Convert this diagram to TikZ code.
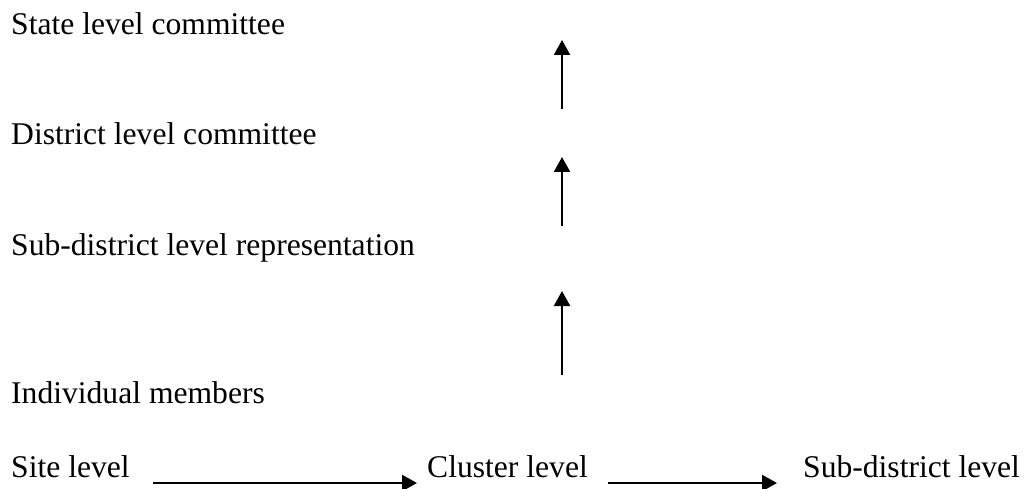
\documentclass[tikz,border=0pt]{standalone}
\usepackage{fontspec}
\setmainfont{Liberation Serif}
\usetikzlibrary{arrows.meta}
\begin{document}
\begin{tikzpicture}[x=1pt,y=-1pt,
  lbl/.style={anchor=base west,inner sep=0pt,font=\fontsize{31.6}{38}\selectfont},
  conn/.style={line width=2.2pt,-{Triangle[length=15pt,width=16pt]}}]
\useasboundingbox (0,0) rectangle (1024,489);
\node[lbl] (state) at (11,35) {State level committee};
\node[lbl] (district) at (11,145) {District level committee};
\node[lbl] (subrep) at (11,255) {Sub-district level representation};
\node[lbl] (indiv) at (11,403) {Individual members};
\node[lbl] (site) at (11,477) {Site level};
\node[lbl] (cluster) at (427,477) {Cluster level};
\node[lbl] (subdist) at (803,477) {Sub-district level};
\coordinate (v1a) at (562,109); \coordinate (v1b) at (562,40);
\coordinate (v2a) at (562,226); \coordinate (v2b) at (562,157);
\coordinate (v3a) at (562,375); \coordinate (v3b) at (562,291);
\coordinate (h1a) at (153,483); \coordinate (h1b) at (417,483);
\coordinate (h2a) at (608,483); \coordinate (h2b) at (777,483);
\draw[conn] (v1a) -- (v1b);
\draw[conn] (v2a) -- (v2b);
\draw[conn] (v3a) -- (v3b);
\draw[conn] (h1a) -- (h1b);
\draw[conn] (h2a) -- (h2b);
\end{tikzpicture}
\end{document}
